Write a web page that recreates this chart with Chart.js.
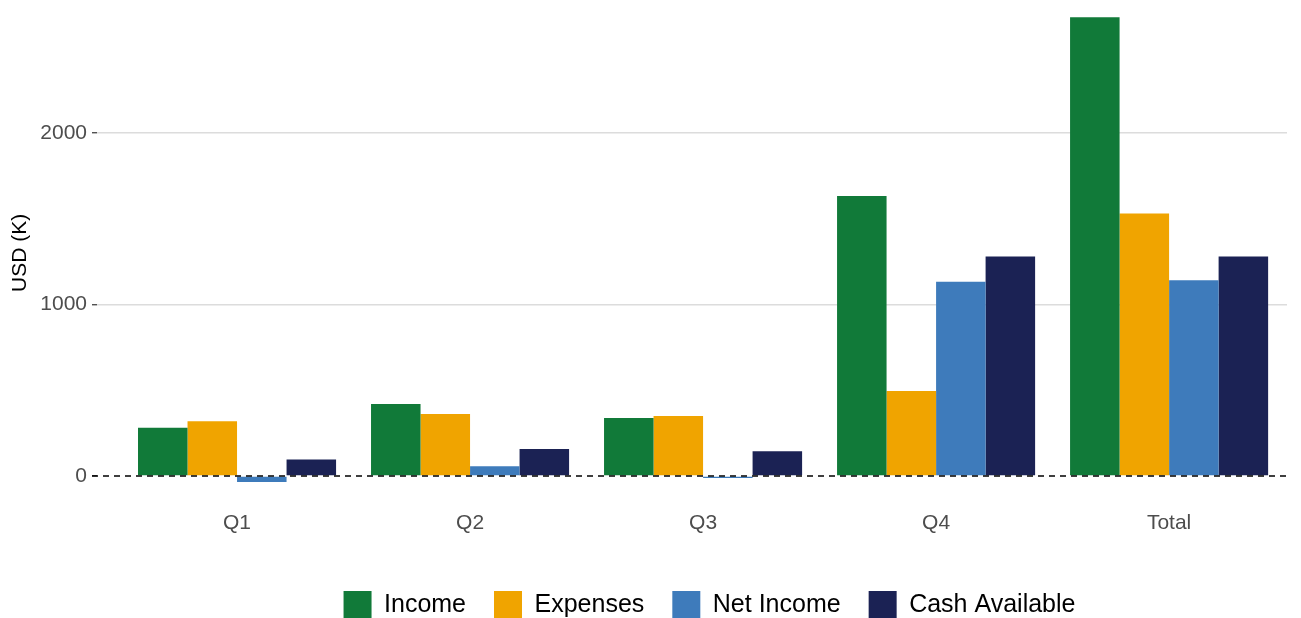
<!DOCTYPE html>
<html>
<head>
<meta charset="utf-8">
<script src="https://cdn.jsdelivr.net/npm/chart.js@4"></script>
<style>
  html, body { margin: 0; padding: 0; background: #fff; overflow: hidden; }
  #wrap { position: relative; top: -17px; width: 1301px; height: 646px; }
</style>
</head>
<body>
<div id="wrap"><canvas id="chart"></canvas></div>
<script>
// quarters on the x axis
const quarters = ['Q1', 'Q2', 'Q3', 'Q4', 'Total'];

// values in USD (K)
const income = [282, 420, 338, 1632, 2675];
const expenses = [319, 361, 350, 496, 1531];
const netIncome = [-35, 57, -12, 1132, 1142];
const cashAvailable = [97, 157, 144, 1280, 1280];

const yTicks = [0, 1000, 2000];

const toPoints = (arr) => arr.map((v, i) => ({ x: i, y: v }));

// dashed zero line, drawn through the y scale
const zeroLine = {
  id: 'zeroLine',
  afterDatasetsDraw(chart) {
    const { ctx, chartArea, scales } = chart;
    const y = scales.y.getPixelForValue(0);
    ctx.save();
    ctx.strokeStyle = '#000';
    ctx.lineWidth = 1.6;
    ctx.setLineDash([6, 5]);
    ctx.beginPath();
    ctx.moveTo(chartArea.left - 5, y);
    ctx.lineTo(chartArea.right, y);
    ctx.stroke();
    ctx.restore();
  }
};

// nudge the legend to sit under the panel like the original
const legendShift = {
  id: 'legendShift',
  afterLayout(chart) {
    chart.legend.left += 66;
    chart.legend.right += 66;
  }
};

new Chart(document.getElementById('chart').getContext('2d'), {
  type: 'bar',
  data: {
    datasets: [
      { label: 'Income', data: toPoints(income), backgroundColor: '#117a39' },
      { label: 'Expenses', data: toPoints(expenses), backgroundColor: '#f0a400' },
      { label: 'Net Income', data: toPoints(netIncome), backgroundColor: '#3e7bbb' },
      { label: 'Cash Available', data: toPoints(cashAvailable), backgroundColor: '#1b2254' }
    ]
  },
  options: {
    responsive: true,
    maintainAspectRatio: false,
    animation: false,
    layout: { padding: { left: 0, right: 14, top: 0, bottom: 0 } },
    datasets: {
      bar: { categoryPercentage: 0.85, barPercentage: 1.0, borderWidth: 0 }
    },
    plugins: {
      legend: {
        position: 'bottom',
        labels: {
          boxWidth: 28,
          boxHeight: 28,
          padding: 28,
          color: '#000',
          font: { family: 'Liberation Sans, Arial, sans-serif', size: 25 }
        }
      },
      tooltip: { enabled: false }
    },
    scales: {
      x: {
        type: 'linear',
        offset: false,
        min: -0.601,
        max: 4.506,
        afterBuildTicks: (axis) => { axis.ticks = quarters.map((_, i) => ({ value: i })); },
        afterFit: (axis) => { axis.height = 58; },
        grid: { display: false, drawTicks: false },
        border: { display: false },
        ticks: {
          autoSkip: false,
          maxRotation: 0,
          padding: 6,
          color: '#4d4d4d',
          font: { family: 'Liberation Sans, Arial, sans-serif', size: 21 },
          callback: (v) => quarters[v] ?? ''
        }
      },
      y: {
        min: -169,
        max: 2772,
        afterBuildTicks: (axis) => { axis.ticks = yTicks.map(v => ({ value: v })); },
        afterFit: (axis) => { axis.width = 97; },
        border: { display: false },
        grid: {
          color: (c) => c.tick && c.tick.value === 0 ? 'rgba(0,0,0,0)' : '#dcdcdc',
          lineWidth: 1.5,
          tickLength: 5,
          tickColor: '#333',
          tickWidth: 1.2
        },
        ticks: {
          padding: 5,
          color: '#4d4d4d',
          font: { family: 'Liberation Sans, Arial, sans-serif', size: 21 },
          callback: (v) => String(v)
        },
        title: {
          display: true,
          text: 'USD (K)',
          color: '#000',
          padding: { top: 8, bottom: 0 },
          font: { family: 'Liberation Sans, Arial, sans-serif', size: 21 }
        }
      }
    }
  },
  plugins: [zeroLine, legendShift]
});
</script>
</body>
</html>
